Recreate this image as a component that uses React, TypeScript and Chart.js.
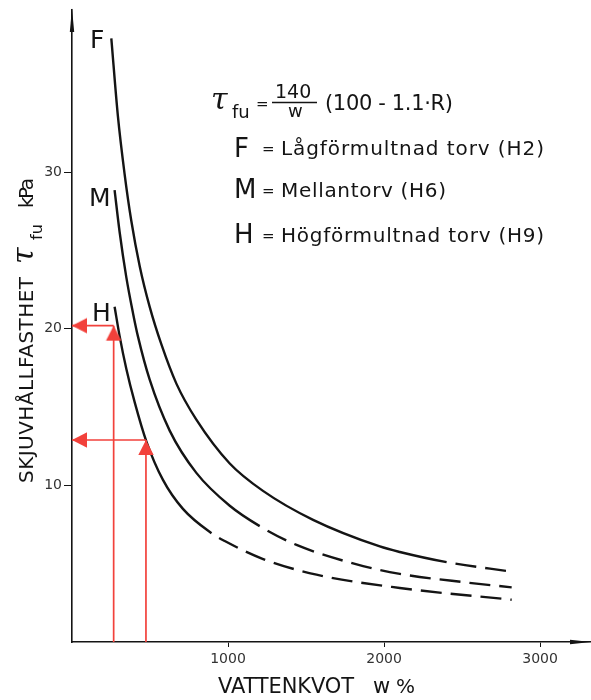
import React, { useEffect, useRef } from 'react';
import { Chart, registerables } from 'chart.js';

Chart.register(...registerables);

// ---- data ----
const curveNames = ['F', 'M', 'H'];
const wF = [252, 294, 337, 380, 434, 498, 573, 669, 797, 1011, 1224, 1545, 1973, 2101, 2401, 2818];
const tauF = [38.55, 33.6, 29.9, 26.9, 24.0, 21.4, 19.0, 16.5, 14.2, 11.4, 9.65, 7.8, 6.1, 5.75, 5.1, 4.49];
const wM = [273, 305, 348, 391, 423, 498, 626, 797, 1011, 1203, 1439, 1866, 2101, 2529, 2818];
const tauM = [28.86, 26.2, 23.3, 21.0, 19.5, 16.75, 13.5, 10.8, 8.7, 7.4, 6.2, 4.85, 4.35, 3.8, 3.49];
const wH = [273, 305, 348, 402, 477, 583, 711, 894, 979, 1225, 1567, 2101, 2818];
const tauH = [21.41, 19.55, 17.45, 15.3, 12.8, 10.35, 8.5, 6.95, 6.45, 5.3, 4.3, 3.45, 2.7];
// water content from which each curve is extrapolated (dashed)
const dashFrom = [2401, 1203, 894];
// red reading arrows
const arrowW = [267, 474];
const arrowTau = [20.2, 12.9];
const xTicks = [1000, 2000, 3000];
const yTicks = [10, 20, 30];

const legendLines = [
  { key: 'F', text: 'Lågförmultnad torv (H2)' },
  { key: 'M', text: 'Mellantorv (H6)' },
  { key: 'H', text: 'Högförmultnad torv (H9)' },
];

const INK = '#141414';
const RED = '#f2413b';
const FONT = 'DejaVu Sans';
const TAU_FONT = 'italic 30px "DejaVu Serif"';

function fitText(ctx: CanvasRenderingContext2D, text: string, x: number, y: number, width: number, size: number) {
  ctx.font = `${size}px "${FONT}"`;
  (ctx as any).letterSpacing = '0px';
  const w0 = ctx.measureText(text).width;
  const n = Array.from(text).length;
  const sp = n > 1 ? (width - w0) / (n - 1) : 0;
  (ctx as any).letterSpacing = `${sp}px`;
  ctx.fillText(text, x, y);
  (ctx as any).letterSpacing = '0px';
}

function plain(ctx: CanvasRenderingContext2D, text: string, x: number, y: number, size: number) {
  ctx.font = `${size}px "${FONT}"`;
  (ctx as any).letterSpacing = '0px';
  ctx.fillText(text, x, y);
}

function tau(ctx: CanvasRenderingContext2D, x: number, y: number) {
  ctx.font = TAU_FONT;
  (ctx as any).letterSpacing = '0px';
  ctx.fillText('τ', x, y);
}

const decorPlugin = {
  id: 'decor',
  afterDraw(chart: any) {
    const ctx: CanvasRenderingContext2D = chart.ctx;
    const a = chart.chartArea;
    ctx.save();
    ctx.fillStyle = INK;
    ctx.strokeStyle = INK;
    ctx.textAlign = 'left';
    ctx.textBaseline = 'alphabetic';

    // axis arrowheads
    ctx.beginPath();
    ctx.moveTo(a.left, a.top - 2);
    ctx.lineTo(a.left - 2.2, a.top + 22);
    ctx.lineTo(a.left + 2.2, a.top + 22);
    ctx.closePath();
    ctx.fill();
    ctx.beginPath();
    ctx.moveTo(a.right + 1, a.bottom);
    ctx.lineTo(a.right - 20, a.bottom - 2.2);
    ctx.lineTo(a.right - 20, a.bottom + 2.2);
    ctx.closePath();
    ctx.fill();

    // curve labels
    plain(ctx, curveNames[0], 90, 48, 25);
    plain(ctx, curveNames[1], 89, 206, 25);
    plain(ctx, curveNames[2], 92, 321, 25);

    // formula
    tau(ctx, 211, 109);
    plain(ctx, 'fu', 232, 118, 18);
    plain(ctx, '=', 256, 109, 15);
    plain(ctx, '140', 275, 98, 19);
    ctx.lineWidth = 1.5;
    ctx.beginPath();
    ctx.moveTo(272, 102.5);
    ctx.lineTo(317, 102.5);
    ctx.stroke();
    plain(ctx, 'w', 288, 117, 18);
    fitText(ctx, '(100 - 1.1·R)', 325, 110, 128, 21);

    // legend lines
    const ys = [[157, 154, 155, 548], [198, 195.5, 197, 450], [243, 240.5, 242, 548]];
    legendLines.forEach((l, i) => {
      const [yk, ye, yt, xe] = ys[i];
      plain(ctx, l.key, 234, yk, 26);
      plain(ctx, '=', 262, ye, 15);
      fitText(ctx, l.text, 281, yt, xe - 281 - 4, 20);
    });

    // x title
    fitText(ctx, 'VATTENKVOT', 218, 693, 136, 21);
    plain(ctx, 'w', 373, 693, 21);
    plain(ctx, '%', 396, 693, 20);

    // y title (rotated)
    ctx.translate(33, 483);
    ctx.rotate(-Math.PI / 2);
    fitText(ctx, 'SKJUVHÅLLFASTHET', 0, 0, 206, 20);
    tau(ctx, 219, 0);
    plain(ctx, 'fu', 243, 9, 16);
    fitText(ctx, 'kPa', 275, 0, 30, 20);

    ctx.restore();
  },
};

function makeTip(): HTMLCanvasElement {
  const c = document.createElement('canvas');
  c.width = 32;
  c.height = 32;
  const g = c.getContext('2d')!;
  g.fillStyle = RED;
  g.beginPath();
  g.moveTo(16, 16);
  g.lineTo(8.3, 31);
  g.lineTo(23.7, 31);
  g.closePath();
  g.fill();
  return c;
}

const NO_POINT = { pointRadius: 0, pointHoverRadius: 0, pointBorderWidth: 0, pointHoverBorderWidth: 0 };

export default function App() {
  const ref = useRef<HTMLCanvasElement>(null);

  useEffect(() => {
    if (!ref.current) return;
    const tip = makeTip();
    const curves = [
      { w: wF, t: tauF, d: dashFrom[0] },
      { w: wM, t: tauM, d: dashFrom[1] },
      { w: wH, t: tauH, d: dashFrom[2] },
    ];
    const datasets: any[] = [];

    // red reading arrows (first => drawn on top)
    const heads: any[] = [];
    const rot: number[] = [];
    arrowW.forEach((w, i) => {
      const t = arrowTau[i];
      datasets.push({
        data: [{ x: w, y: 0 }, { x: w, y: t }],
        showLine: true, borderColor: RED, borderWidth: 1.7, clip: false, ...NO_POINT,
      });
      datasets.push({
        data: [{ x: w, y: t }, { x: 0, y: t }],
        showLine: true, borderColor: RED, borderWidth: 1.7, clip: false, ...NO_POINT,
      });
      heads.push({ x: w, y: t }, { x: 0, y: t });
      rot.push(0, -90);
    });
    datasets.push({
      data: heads, showLine: false, pointStyle: tip, rotation: rot,
      pointRadius: 0.5, pointHoverRadius: 0, pointBorderWidth: 0, pointHoverBorderWidth: 0,
      backgroundColor: RED, borderColor: RED, clip: false,
    });

    curves.forEach((c) => {
      datasets.push({
        data: c.w.map((w, i) => ({ x: w, y: c.t[i] })),
        showLine: true,
        borderColor: INK,
        borderWidth: 2.4,
        ...NO_POINT,
        cubicInterpolationMode: 'monotone',
        borderCapStyle: 'butt',
        fill: false,
        segment: {
          borderDash: (s: any) => (s.p0.parsed.x >= c.d - 0.5 ? [21, 9] : undefined),
          borderDashOffset: (s: any) => (s.p0.parsed.x >= c.d - 0.5 ? 21 : undefined),
        },
      });
    });

    const chart = new Chart(ref.current, {
      type: 'scatter',
      data: { datasets },
      options: {
        animation: false,
        responsive: false,
        devicePixelRatio: 1,
        events: [],
        layout: { padding: { top: 10, right: 1, left: 0, bottom: 0 } },
        plugins: { legend: { display: false }, tooltip: { enabled: false } },
        scales: {
          x: {
            type: 'linear',
            min: 0,
            max: 3320,
            afterBuildTicks: (s: any) => { s.ticks = xTicks.map((v) => ({ value: v })); },
            afterFit: (s: any) => { s.height = 58; s.paddingLeft = 0; s.paddingRight = 0; },
            grid: { drawOnChartArea: false, drawTicks: true, tickLength: 5, color: INK, lineWidth: 1 },
            border: { display: true, color: INK, width: 1.6 },
            ticks: {
              padding: 4, color: '#333', maxRotation: 0, autoSkip: false,
              font: { family: FONT, size: 14 },
              callback: (v: any) => String(v),
            },
          },
          y: {
            type: 'linear',
            min: 0,
            max: 40.36,
            afterBuildTicks: (s: any) => { s.ticks = yTicks.map((v) => ({ value: v })); },
            afterFit: (s: any) => { s.width = 72; s.paddingTop = 0; s.paddingBottom = 0; },
            grid: { drawOnChartArea: false, drawTicks: true, tickLength: 8, color: INK, lineWidth: 1 },
            border: { display: true, color: INK, width: 1.6 },
            ticks: {
              padding: 2, color: '#333', autoSkip: false,
              font: { family: FONT, size: 14 },
              callback: (v: any) => String(v),
            },
          },
        },
      },
      plugins: [decorPlugin],
    } as any);
    return () => chart.destroy();
  }, []);

  return (
    <div style={{ position: 'fixed', left: 0, top: 0, width: 591, height: 700, background: '#fff' }}>
      <canvas ref={ref} width={591} height={700} style={{ display: 'block', width: 591, height: 700 }} />
    </div>
  );
}
